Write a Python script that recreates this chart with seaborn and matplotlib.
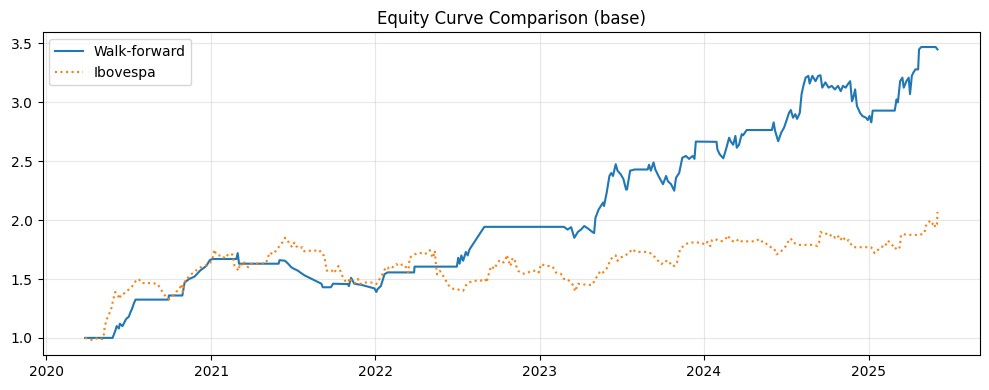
import matplotlib
matplotlib.use("Agg")
import matplotlib.pyplot as plt
import pandas as pd
import seaborn as sns

# ---------------- data ----------------
wf_dates = [
    "2020-03-27", "2020-05-27", "2020-06-02", "2020-06-05", "2020-06-10", "2020-06-12",
    "2020-06-18", "2020-06-22", "2020-06-26", "2020-07-02", "2020-07-06", "2020-07-09",
    "2020-07-13", "2020-07-17", "2020-09-28", "2020-09-29", "2020-10-29", "2020-11-03",
    "2020-11-13", "2020-11-25", "2020-12-07", "2020-12-21", "2020-12-29", "2021-01-04",
    "2021-02-26", "2021-03-01", "2021-03-04", "2021-05-31", "2021-06-02", "2021-06-14",
    "2021-06-21", "2021-06-28", "2021-07-05", "2021-07-13", "2021-07-20", "2021-07-28",
    "2021-09-03", "2021-09-06", "2021-09-24", "2021-09-29", "2021-11-01", "2021-11-03",
    "2021-11-08", "2021-11-15", "2021-12-01", "2021-12-30", "2022-01-03", "2022-01-06",
    "2022-01-13", "2022-01-18", "2022-01-21", "2022-01-28", "2022-03-28", "2022-03-29",
    "2022-07-01", "2022-07-04", "2022-07-07", "2022-07-11", "2022-07-15", "2022-07-21",
    "2022-07-25", "2022-07-29", "2022-08-31", "2023-02-24", "2023-03-04", "2023-03-12",
    "2023-03-19", "2023-03-27", "2023-04-03", "2023-04-10", "2023-04-18", "2023-04-28",
    "2023-05-02", "2023-05-05", "2023-05-12", "2023-05-17", "2023-05-22", "2023-05-24",
    "2023-05-30", "2023-06-05", "2023-06-09", "2023-06-13", "2023-06-19", "2023-06-23",
    "2023-06-30", "2023-07-06", "2023-07-12", "2023-07-14", "2023-07-21", "2023-07-31",
    "2023-08-29", "2023-09-01", "2023-09-05", "2023-09-11", "2023-09-15", "2023-09-22",
    "2023-10-02", "2023-10-09", "2023-10-13", "2023-10-20", "2023-10-27", "2023-10-31",
    "2023-11-07", "2023-11-14", "2023-11-22", "2023-11-29", "2023-12-07", "2023-12-11",
    "2023-12-14", "2024-01-29", "2024-01-31", "2024-02-05", "2024-02-13", "2024-02-19",
    "2024-02-26", "2024-03-01", "2024-03-06", "2024-03-11", "2024-03-14", "2024-03-19",
    "2024-03-25", "2024-03-28", "2024-04-05", "2024-05-31", "2024-06-04", "2024-06-07",
    "2024-06-14", "2024-06-21", "2024-06-27", "2024-07-02", "2024-07-08", "2024-07-12",
    "2024-07-17", "2024-07-22", "2024-07-26", "2024-08-01", "2024-08-05", "2024-08-09",
    "2024-08-14", "2024-08-20", "2024-08-23", "2024-08-29", "2024-09-05", "2024-09-11",
    "2024-09-16", "2024-09-20", "2024-09-27", "2024-10-04", "2024-10-11", "2024-10-18",
    "2024-10-25", "2024-10-31", "2024-11-05", "2024-11-11", "2024-11-15", "2024-11-21",
    "2024-11-25", "2024-11-28", "2024-12-02", "2024-12-06", "2024-12-13", "2024-12-18",
    "2024-12-26", "2024-12-30", "2025-01-03", "2025-01-07", "2025-01-10", "2025-02-28",
    "2025-03-04", "2025-03-07", "2025-03-12", "2025-03-17", "2025-03-20", "2025-03-26",
    "2025-03-31", "2025-04-03", "2025-04-07", "2025-04-10", "2025-04-15", "2025-04-21",
    "2025-04-23", "2025-04-28", "2025-05-30", "2025-06-03",
]
wf_values = [
    1.00, 1.00, 1.06, 1.10, 1.08, 1.12,
    1.10, 1.13, 1.16, 1.18, 1.22, 1.245,
    1.29, 1.325, 1.325, 1.36, 1.36, 1.47,
    1.50, 1.52, 1.57, 1.61, 1.66, 1.67,
    1.67, 1.72, 1.63, 1.63, 1.66, 1.655,
    1.63, 1.60, 1.585, 1.57, 1.55, 1.53,
    1.46, 1.43, 1.43, 1.46, 1.457, 1.44,
    1.51, 1.46, 1.45, 1.42, 1.39, 1.415,
    1.44, 1.50, 1.54, 1.556, 1.556, 1.605,
    1.605, 1.68, 1.63, 1.70, 1.655, 1.73,
    1.70, 1.75, 1.943, 1.943, 1.92, 1.94,
    1.85, 1.90, 1.92, 1.95, 1.93, 1.90,
    1.89, 2.02, 2.09, 2.12, 2.15, 2.12,
    2.235, 2.375, 2.40, 2.375, 2.475, 2.42,
    2.39, 2.35, 2.26, 2.26, 2.42, 2.43,
    2.43, 2.47, 2.42, 2.49, 2.43, 2.375,
    2.305, 2.375, 2.33, 2.305, 2.25, 2.36,
    2.40, 2.53, 2.545, 2.52, 2.545, 2.52,
    2.667, 2.665, 2.60, 2.56, 2.525, 2.60,
    2.70, 2.665, 2.64, 2.715, 2.615, 2.64,
    2.73, 2.72, 2.765, 2.765, 2.83, 2.76,
    2.67, 2.745, 2.785, 2.84, 2.91, 2.935,
    2.87, 2.90, 2.86, 2.91, 3.07, 3.14,
    3.21, 3.225, 3.16, 3.225, 3.18, 3.225,
    3.23, 3.125, 3.17, 3.125, 3.14, 3.11,
    3.14, 3.095, 3.14, 3.125, 3.15, 3.18,
    3.01, 3.04, 3.11, 2.97, 2.91, 2.885,
    2.87, 2.85, 2.885, 2.83, 2.93, 2.93,
    3.025, 3.00, 3.18, 3.21, 3.125, 3.18,
    3.21, 3.07, 3.225, 3.25, 3.28, 3.28,
    3.45, 3.47, 3.47, 3.45,
]

ibov_dates = [
    "2020-03-27", "2020-04-13", "2020-04-24", "2020-05-04", "2020-05-07", "2020-05-09",
    "2020-05-13", "2020-05-19", "2020-05-25", "2020-05-28", "2020-06-02", "2020-06-08",
    "2020-06-11", "2020-06-15", "2020-06-19", "2020-06-26", "2020-07-03", "2020-07-10",
    "2020-07-17", "2020-07-24", "2020-07-31", "2020-08-13", "2020-08-24", "2020-09-04",
    "2020-09-11", "2020-09-18", "2020-09-24", "2020-09-30", "2020-10-08", "2020-10-15",
    "2020-10-23", "2020-10-27", "2020-10-30", "2020-11-05", "2020-11-10", "2020-11-17",
    "2020-11-24", "2020-12-02", "2020-12-09", "2020-12-17", "2020-12-23", "2020-12-30",
    "2021-01-04", "2021-01-08", "2021-01-11", "2021-01-15", "2021-01-22", "2021-01-29",
    "2021-02-03", "2021-02-09", "2021-02-17", "2021-02-22", "2021-02-25", "2021-03-03",
    "2021-03-05", "2021-03-08", "2021-03-12", "2021-03-18", "2021-03-24", "2021-03-31",
    "2021-04-12", "2021-04-22", "2021-05-03", "2021-05-07", "2021-05-11", "2021-05-18",
    "2021-05-25", "2021-06-01", "2021-06-08", "2021-06-14", "2021-06-18", "2021-06-24",
    "2021-06-30", "2021-07-05", "2021-07-09", "2021-07-16", "2021-07-23", "2021-07-27",
    "2021-08-06", "2021-08-18", "2021-08-30", "2021-09-03", "2021-09-09", "2021-09-13",
    "2021-09-15", "2021-09-21", "2021-09-27", "2021-10-01", "2021-10-11", "2021-10-15",
    "2021-10-19", "2021-10-22", "2021-10-28", "2021-11-02", "2021-11-05", "2021-11-11",
    "2021-11-17", "2021-11-23", "2021-11-29", "2021-12-03", "2021-12-15", "2021-12-27",
    "2022-01-03", "2022-01-07", "2022-01-12", "2022-01-18", "2022-01-24", "2022-01-28",
    "2022-02-03", "2022-02-08", "2022-02-16", "2022-02-23", "2022-03-03", "2022-03-10",
    "2022-03-15", "2022-03-18", "2022-03-25", "2022-04-04", "2022-04-12", "2022-04-20",
    "2022-04-27", "2022-05-02", "2022-05-05", "2022-05-09", "2022-05-13", "2022-05-16",
    "2022-05-18", "2022-05-24", "2022-05-31", "2022-06-07", "2022-06-13", "2022-06-17",
    "2022-06-24", "2022-07-01", "2022-07-08", "2022-07-15", "2022-07-21", "2022-07-27",
    "2022-08-09", "2022-08-22", "2022-09-02", "2022-09-05", "2022-09-09", "2022-09-13",
    "2022-09-16", "2022-09-22", "2022-09-28", "2022-10-03", "2022-10-07", "2022-10-13",
    "2022-10-17", "2022-10-20", "2022-10-24", "2022-10-28", "2022-11-02", "2022-11-07",
    "2022-11-10", "2022-11-14", "2022-11-21", "2022-11-28", "2022-12-05", "2022-12-16",
    "2022-12-28", "2022-12-30", "2023-01-04", "2023-01-09", "2023-01-16", "2023-01-23",
    "2023-01-30", "2023-02-06", "2023-02-10", "2023-02-17", "2023-02-24", "2023-03-04",
    "2023-03-12", "2023-03-17", "2023-03-21", "2023-03-27", "2023-04-03", "2023-04-21",
    "2023-04-28", "2023-05-04", "2023-05-10", "2023-05-16", "2023-05-22", "2023-05-29",
    "2023-06-02", "2023-06-06", "2023-06-12", "2023-06-19", "2023-06-23", "2023-06-30",
    "2023-07-07", "2023-07-14", "2023-07-19", "2023-07-25", "2023-08-03", "2023-08-14",
    "2023-08-25", "2023-09-04", "2023-09-08", "2023-09-15", "2023-09-21", "2023-09-29",
    "2023-10-05", "2023-10-11", "2023-10-16", "2023-10-20", "2023-10-27", "2023-11-02",
    "2023-11-07", "2023-11-10", "2023-11-17", "2023-11-24", "2023-12-01", "2023-12-14",
    "2023-12-26", "2024-01-03", "2024-01-09", "2024-01-15", "2024-01-19", "2024-01-26",
    "2024-02-02", "2024-02-07", "2024-02-14", "2024-02-20", "2024-02-23", "2024-03-01",
    "2024-03-06", "2024-03-12", "2024-03-18", "2024-03-25", "2024-04-03", "2024-04-15",
    "2024-04-25", "2024-05-03", "2024-05-08", "2024-05-16", "2024-05-22", "2024-05-29",
    "2024-06-05", "2024-06-10", "2024-06-17", "2024-06-24", "2024-07-01", "2024-07-05",
    "2024-07-12", "2024-07-17", "2024-07-23", "2024-07-30", "2024-08-09", "2024-08-21",
    "2024-09-02", "2024-09-09", "2024-09-13", "2024-09-16", "2024-09-20", "2024-09-26",
    "2024-10-03", "2024-10-08", "2024-10-15", "2024-10-18", "2024-10-24", "2024-10-30",
    "2024-11-05", "2024-11-11", "2024-11-18", "2024-11-22", "2024-11-28", "2024-12-06",
    "2024-12-18", "2024-12-30", "2025-01-06", "2025-01-10", "2025-01-14", "2025-01-20",
    "2025-01-27", "2025-01-31", "2025-02-06", "2025-02-12", "2025-02-18", "2025-02-24",
    "2025-02-27", "2025-03-05", "2025-03-10", "2025-03-12", "2025-03-14", "2025-03-20",
    "2025-03-28", "2025-04-04", "2025-04-15", "2025-04-25", "2025-05-05", "2025-05-08",
    "2025-05-13", "2025-05-16", "2025-05-21", "2025-05-26", "2025-05-29", "2025-06-02",
    "2025-06-03",
]
ibov_values = [
    1.00, 0.98, 1.00, 0.99, 1.01, 1.08,
    1.15, 1.20, 1.26, 1.32, 1.39, 1.36,
    1.33, 1.37, 1.37, 1.39, 1.415, 1.44,
    1.48, 1.50, 1.465, 1.465, 1.465, 1.457,
    1.415, 1.37, 1.345, 1.33, 1.36, 1.39,
    1.415, 1.457, 1.39, 1.50, 1.51, 1.54,
    1.556, 1.585, 1.60, 1.61, 1.62, 1.64,
    1.67, 1.75, 1.72, 1.70, 1.70, 1.68,
    1.71, 1.695, 1.71, 1.61, 1.60, 1.57,
    1.61, 1.60, 1.65, 1.63, 1.60, 1.63,
    1.63, 1.63, 1.635, 1.68, 1.725, 1.71,
    1.74, 1.775, 1.81, 1.85, 1.84, 1.80,
    1.77, 1.81, 1.78, 1.76, 1.77, 1.735,
    1.74, 1.74, 1.745, 1.71, 1.70, 1.61,
    1.57, 1.58, 1.57, 1.55, 1.61, 1.57,
    1.53, 1.51, 1.47, 1.48, 1.51, 1.47,
    1.465, 1.50, 1.457, 1.47, 1.47, 1.47,
    1.457, 1.48, 1.51, 1.55, 1.60, 1.59,
    1.61, 1.60, 1.627, 1.61, 1.627, 1.60,
    1.556, 1.68, 1.70, 1.72, 1.72, 1.71,
    1.725, 1.745, 1.71, 1.68, 1.74, 1.60,
    1.54, 1.57, 1.53, 1.485, 1.445, 1.43,
    1.415, 1.415, 1.405, 1.40, 1.445, 1.47,
    1.485, 1.485, 1.50, 1.47, 1.53, 1.585,
    1.61, 1.585, 1.627, 1.655, 1.66, 1.64,
    1.66, 1.705, 1.655, 1.61, 1.68, 1.655,
    1.61, 1.57, 1.55, 1.545, 1.555, 1.57,
    1.57, 1.556, 1.627, 1.62, 1.61, 1.61,
    1.605, 1.556, 1.55, 1.545, 1.50, 1.50,
    1.465, 1.445, 1.395, 1.46, 1.455, 1.45,
    1.45, 1.495, 1.53, 1.57, 1.555, 1.585,
    1.61, 1.655, 1.685, 1.70, 1.655, 1.685,
    1.69, 1.71, 1.72, 1.755, 1.73, 1.73,
    1.73, 1.72, 1.70, 1.685, 1.655, 1.627,
    1.655, 1.65, 1.627, 1.64, 1.61, 1.64,
    1.725, 1.76, 1.78, 1.80, 1.81, 1.81,
    1.81, 1.79, 1.815, 1.78, 1.83, 1.84,
    1.825, 1.82, 1.825, 1.85, 1.87, 1.83,
    1.82, 1.815, 1.84, 1.82, 1.82, 1.82,
    1.82, 1.84, 1.82, 1.815, 1.78, 1.77,
    1.76, 1.71, 1.72, 1.75, 1.78, 1.81,
    1.845, 1.81, 1.80, 1.79, 1.79, 1.79,
    1.79, 1.78, 1.81, 1.90, 1.89, 1.88,
    1.89, 1.87, 1.875, 1.85, 1.87, 1.83,
    1.86, 1.82, 1.83, 1.80, 1.77, 1.77,
    1.77, 1.77, 1.77, 1.755, 1.72, 1.74,
    1.77, 1.775, 1.77, 1.825, 1.81, 1.78,
    1.755, 1.765, 1.755, 1.80, 1.875, 1.88,
    1.875, 1.875, 1.875, 1.875, 1.89, 1.95,
    1.98, 1.99, 1.96, 1.98, 1.94, 1.965,
    2.07,
]

title = "Equity Curve Comparison (base)"
wf_label = "Walk-forward"
ibov_label = "Ibovespa"

# ---------------- plot ----------------
wf = pd.DataFrame({"date": pd.to_datetime(wf_dates), "value": wf_values})
ibov = pd.DataFrame({"date": pd.to_datetime(ibov_dates), "value": ibov_values})

fig, ax = plt.subplots(figsize=(9.89, 3.9), dpi=100)
sns.lineplot(data=wf, x="date", y="value", ax=ax, color="tab:blue",
             linewidth=1.5, label=wf_label)
sns.lineplot(data=ibov, x="date", y="value", ax=ax, color="tab:orange",
             linewidth=1.5, linestyle=":", label=ibov_label)

ax.set_title(title, fontsize=12)
ax.set_xlabel("")
ax.set_ylabel("")
ax.grid(True, alpha=0.3)
ax.legend(loc="upper left")

fig.subplots_adjust(left=0.043, right=0.991, bottom=0.090, top=0.917)
fig.savefig("out.png", dpi=100)
